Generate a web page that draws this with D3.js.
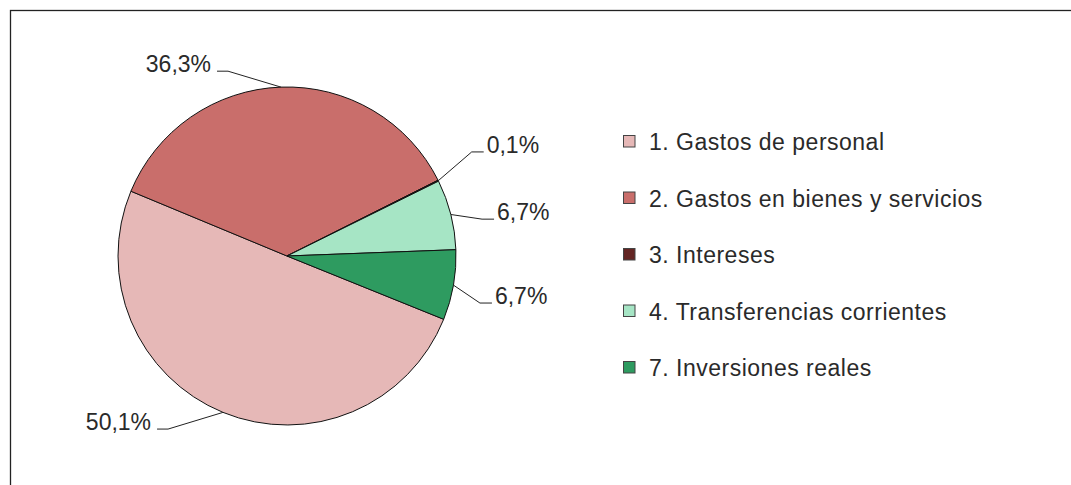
<!DOCTYPE html>
<html>
<head>
<meta charset="utf-8">
<script src="https://cdnjs.cloudflare.com/ajax/libs/d3/7.8.5/d3.min.js"></script>
<style>
  html, body { margin: 0; padding: 0; background: #fff; overflow: hidden; }
  svg { display: block; }
  svg text { font-family: "Liberation Sans", Arial, sans-serif; fill: #2a2a2a; }
</style>
</head>
<body>
<div id="chart"></div>
<script>
  // chart data
  var categories = ["1. Gastos de personal", "2. Gastos en bienes y servicios", "3. Intereses",
                    "4. Transferencias corrientes", "7. Inversiones reales"];
  var values = [50.1, 36.3, 0.1, 6.7, 6.7];
  var labels = ["50,1%", "36,3%", "0,1%", "6,7%", "6,7%"];
  var colors = ["#e6b8b7", "#c96e6b", "#632523", "#a6e5c5", "#2e9b60"];

  // where each leader line bends (angle in degrees clockwise from top, radius in px)
  var elbowAngle = [214.5, 342.3, 60.6, 79.3, 103.7];
  var elbowRadius = [210, 194, 212, 198.5, 198.6];

  var width = 1071, height = 485;
  var cx = 287, cy = 256, radius = 169;

  var svg = d3.select("#chart").append("svg")
    .attr("width", width)
    .attr("height", height);

  // frame (only top and left edges fall inside the picture)
  svg.append("rect")
    .attr("x", 10.5)
    .attr("y", 10.5)
    .attr("width", width + 20)
    .attr("height", height + 20)
    .attr("fill", "none")
    .attr("stroke", "#222")
    .attr("stroke-width", 1.3);

  var startDeg = 112;
  var pie = d3.pie()
    .sort(null)
    .value(function(d) { return d; })
    .startAngle(startDeg * Math.PI / 180)
    .endAngle((startDeg + 360) * Math.PI / 180);

  var arcs = pie(values);

  var arc = d3.arc().innerRadius(0).outerRadius(radius);

  var g = svg.append("g")
    .attr("transform", "translate(" + cx + "," + cy + ")");

  g.selectAll("path.slice")
    .data(arcs)
    .enter().append("path")
    .attr("class", "slice")
    .attr("d", arc)
    .attr("fill", function(d, i) { return colors[i]; })
    .attr("stroke", "#111")
    .attr("stroke-width", 1)
    .attr("stroke-linejoin", "round");

  // leader lines and percentage labels
  function polar(deg, r) {
    var a = deg * Math.PI / 180;
    return [r * Math.sin(a), -r * Math.cos(a)];
  }

  arcs.forEach(function(d, i) {
    var mid = (d.startAngle + d.endAngle) / 2;
    var p0 = [radius * Math.sin(mid), -radius * Math.cos(mid)];
    var p1 = polar(elbowAngle[i], elbowRadius[i]);
    var right = p1[0] > 0;
    var p2 = [p1[0] + (right ? 12 : -11), p1[1]];

    g.append("polyline")
      .attr("points", [p0, p1, p2].map(function(p) { return p.join(","); }).join(" "))
      .attr("fill", "none")
      .attr("stroke", "#222")
      .attr("stroke-width", 1);

    g.append("text")
      .attr("x", p2[0] + (right ? 3 : -6))
      .attr("y", p2[1] + 1)
      .attr("text-anchor", right ? "start" : "end")
      .style("font-size", "23px")
      .text(labels[i]);
  });

  // legend
  var legend = svg.append("g")
    .attr("transform", "translate(623,141)");

  var row = legend.selectAll("g.row")
    .data(categories)
    .enter().append("g")
    .attr("class", "row")
    .attr("transform", function(d, i) { return "translate(0," + (i * 56.5) + ")"; });

  row.append("rect")
    .attr("x", 0.5)
    .attr("y", -5.5)
    .attr("width", 11.5)
    .attr("height", 11.5)
    .attr("fill", function(d, i) { return colors[i]; })
    .attr("stroke", "#444")
    .attr("stroke-width", 1);

  row.append("text")
    .attr("x", 26)
    .attr("y", 9)
    .style("font-size", "23px")
    .style("letter-spacing", "0.5px")
    .text(function(d) { return d; });
</script>
</body>
</html>
